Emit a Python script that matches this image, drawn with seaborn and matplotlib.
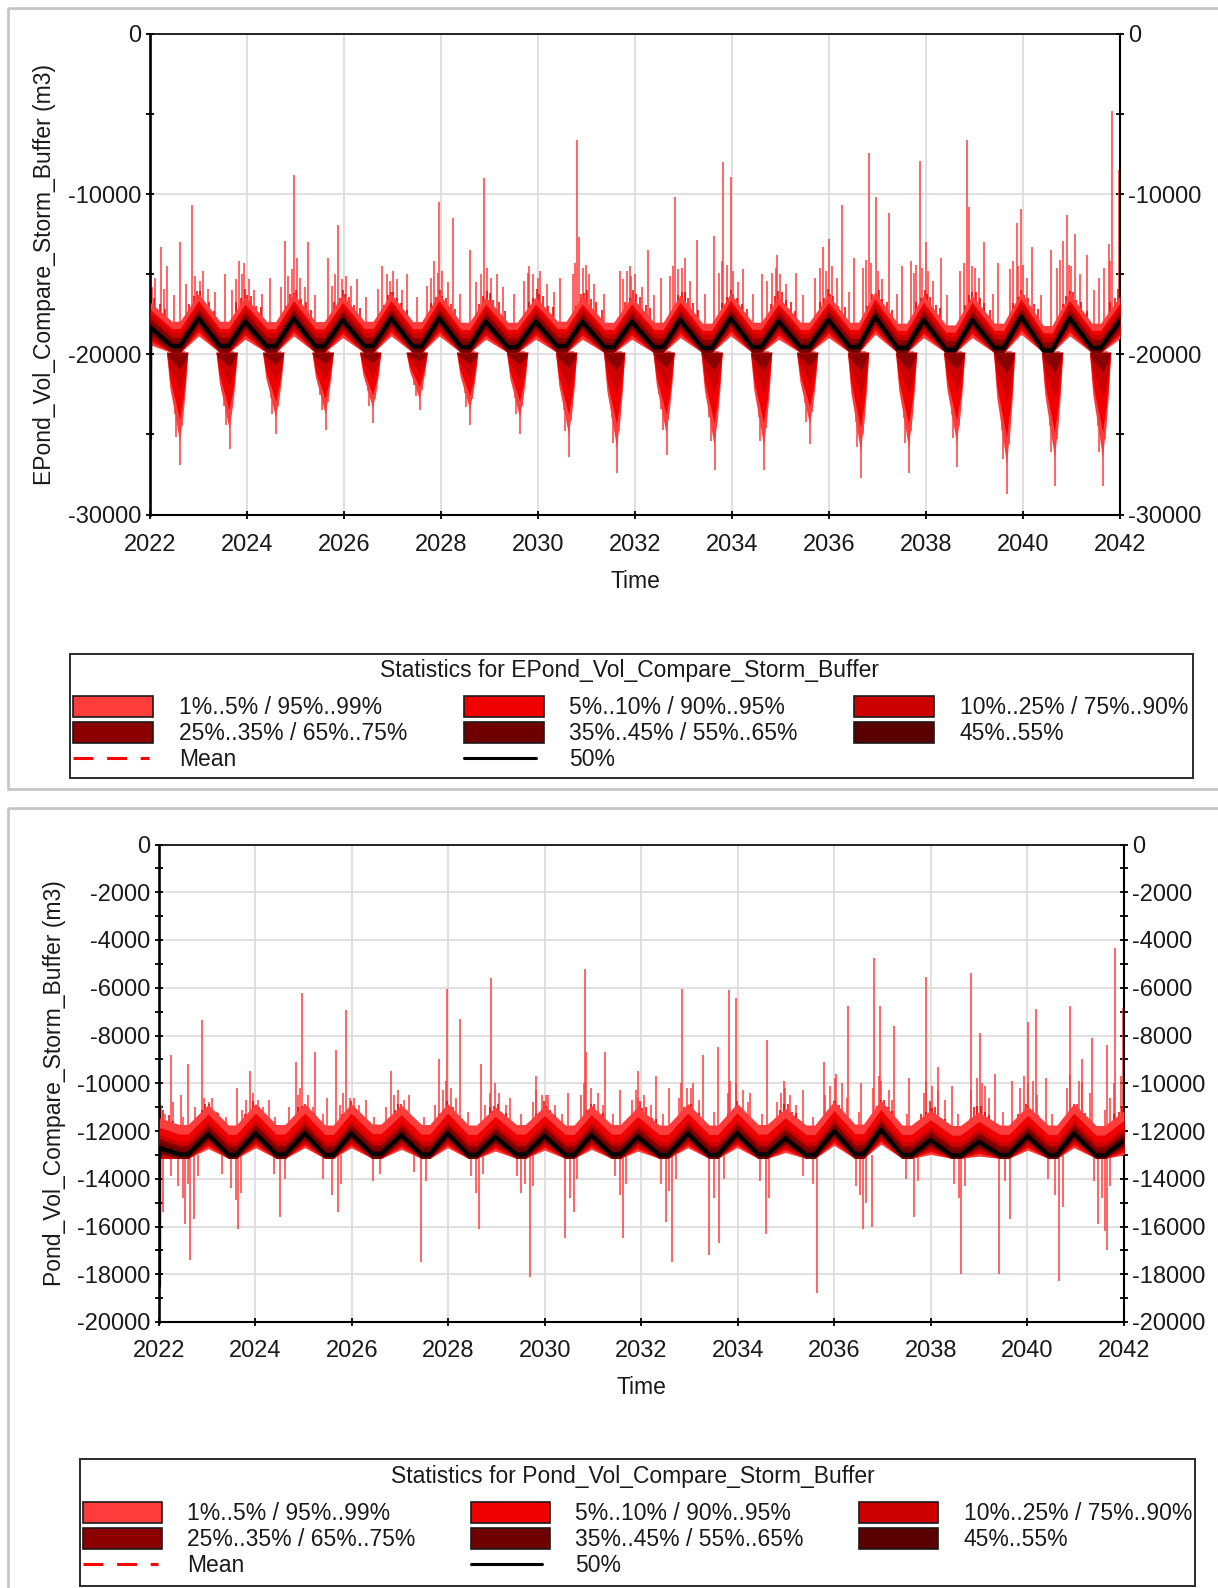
import numpy as np
import pandas as pd
import matplotlib
matplotlib.use("Agg")
import matplotlib.pyplot as plt
import seaborn as sns
from matplotlib.patches import Rectangle

sns.set_theme(style="white")
plt.rcParams['font.family'] = ['Liberation Sans', 'DejaVu Sans']
plt.rcParams['axes.unicode_minus'] = False

# ---------------------------------------------------------------- data
x_ticks = [2022, 2024, 2026, 2028, 2030, 2032, 2034, 2036, 2038, 2040, 2042]

legend_labels = ["1%..5% / 95%..99%", "5%..10% / 90%..95%", "10%..25% / 75%..90%",
                 "25%..35% / 65%..75%", "35%..45% / 55%..65%", "45%..55%"]
line_labels = ["Mean", "50%"]
band_colors = ['#FF3C3C', '#F00000', '#CC0000', '#8B0000', '#6E0000', '#5A0000']

# ---- panel 1 : EPond
top_name = "EPond_Vol_Compare_Storm_Buffer"
top_yticks = [0, -10000, -20000, -30000]
top_yminor = [-5000, -15000, -25000]
top_start = (2022.0, -25300)
top_median = [(2022.005, -18300),
    (2022.45, -19480), (2022.62, -19480), (2023.0, -17740),
    (2023.44, -19480), (2023.62, -19480), (2023.96, -17950),
    (2024.41, -19500), (2024.59, -19500), (2024.96, -17740),
    (2025.41, -19500), (2025.59, -19500), (2025.97, -17850),
    (2026.42, -19480), (2026.6, -19480), (2026.97, -17740),
    (2027.42, -19500), (2027.6, -19500), (2027.96, -17740),
    (2028.41, -19540), (2028.59, -19540), (2028.92, -17950),
    (2029.38, -19540), (2029.57, -19540), (2029.95, -17950),
    (2030.4, -19480), (2030.58, -19480), (2030.91, -17950),
    (2031.37, -19540), (2031.56, -19540), (2031.93, -17950),
    (2032.39, -19540), (2032.58, -19540), (2032.93, -17850),
    (2033.39, -19600), (2033.58, -19600), (2033.97, -17740),
    (2034.42, -19540), (2034.6, -19540), (2034.96, -17950),
    (2035.41, -19540), (2035.59, -19540), (2035.99, -17850),
    (2036.43, -19540), (2036.61, -19540), (2036.95, -17640),
    (2037.41, -19600), (2037.6, -19600), (2037.95, -17850),
    (2038.41, -19710), (2038.6, -19710), (2038.95, -17850),
    (2039.41, -19600), (2039.6, -19600), (2039.96, -17640),
    (2040.42, -19750), (2040.6, -19750), (2040.96, -17740),
    (2041.42, -19600), (2041.6, -19600), (2042.0, -17900)]
# offsets from the median: p55, p65, p75, p90, p95, p99  /  p45, p35, p25, p10, p5, p1
top_up_off = [150, 300, 550, 850, 1100, 1550]
top_lo_off = [-150, -300, -450, -650, -850, -1100]
top_floor = -19900
top_spikes_hi = [
    (2022.22, -13300), (2022.35, -14500), (2022.61, -13000), (2022.86, -10700),
    (2023.09, -14800), (2023.54, -15000), (2023.83, -14200), (2023.94, -14300),
    (2024.48, -15200), (2024.79, -12900), (2024.96, -8800),
    (2025.03, -14000), (2025.25, -13000), (2025.66, -14000), (2025.87, -11900),
    (2026.27, -15300), (2026.79, -14500),
    (2027.02, -14800), (2027.29, -15000), (2027.86, -14200), (2027.95, -10500),
    (2028.24, -11500), (2028.6, -13500), (2028.89, -9000),
    (2029.15, -15000), (2029.82, -14500),
    (2030.05, -14800), (2030.45, -15200), (2030.81, -6600), (2030.85, -12700),
    (2030.99, -14400), (2031.69, -14800), (2031.89, -14500),
    (2032.27, -13500), (2032.53, -15200), (2032.83, -10200),
    (2033.03, -14000), (2033.27, -12850), (2033.63, -12600), (2033.81, -8000),
    (2033.97, -8900), (2034.22, -14700), (2034.62, -15000),
    (2034.92, -13800), (2035.31, -14900), (2035.88, -13300),
    (2036.01, -12800), (2036.27, -10700), (2036.51, -14000), (2036.82, -7400),
    (2036.97, -10200), (2037.24, -11200), (2037.5, -14500), (2037.69, -14200), (2037.88, -7900),
    (2038.0, -13000), (2038.3, -14000), (2038.84, -6600),
    (2038.89, -10800), (2039.19, -13000), (2039.49, -14300), (2039.87, -11800),
    (2039.96, -10900), (2040.18, -13300), (2040.58, -13500), (2040.83, -12900),
    (2040.9, -11300), (2041.08, -12500), (2041.31, -13800), (2041.78, -13100),
    (2041.84, -4800), (2041.98, -8500)]
top_spikes_mid = [
    (2022.04, -15800), (2022.1, -15200), (2022.28, -15900), (2022.5, -16300), (2022.75, -15600), (2022.93, -15100),
    (2023.03, -15400), (2023.2, -15900), (2023.35, -16100), (2023.7, -16000), (2023.78, -15300), (2023.9, -15000),
    (2024.05, -15300), (2024.15, -16000), (2024.3, -16200), (2024.7, -15800), (2024.85, -15100), (2024.93, -14700),
    (2025.1, -15200), (2025.2, -15800), (2025.4, -16300), (2025.75, -15700), (2025.82, -15000), (2025.95, -15300),
    (2026.05, -15100), (2026.15, -15700), (2026.45, -16400), (2026.7, -15900), (2026.88, -15000), (2026.95, -15400),
    (2027.1, -15300), (2027.2, -16000), (2027.5, -16400), (2027.72, -15700), (2027.8, -15200), (2027.93, -14900),
    (2028.03, -14800), (2028.15, -15500), (2028.4, -16200), (2028.72, -15500), (2028.82, -15000), (2028.95, -14600),
    (2029.03, -15200), (2029.28, -15800), (2029.5, -16200), (2029.72, -15400), (2029.8, -14900), (2029.9, -15000),
    (2030.0, -15200), (2030.18, -15600), (2030.33, -16100), (2030.72, -15000), (2030.77, -14300), (2030.92, -14600),
    (2031.06, -15000), (2031.16, -15600), (2031.36, -16200), (2031.75, -15300), (2031.83, -14800), (2031.92, -15100),
    (2032.0, -15000), (2032.15, -15800), (2032.4, -16300), (2032.72, -15100), (2032.79, -14500), (2032.89, -14700),
    (2032.97, -14600), (2033.14, -15400), (2033.44, -16200), (2033.74, -14900), (2033.79, -14200), (2033.89, -14400),
    (2034.03, -14800), (2034.13, -15500), (2034.43, -16200), (2034.73, -15400), (2034.83, -14900), (2034.9, -14600),
    (2034.99, -15000), (2035.12, -15600), (2035.46, -16300), (2035.71, -15200), (2035.81, -14600), (2035.93, -14800),
    (2036.06, -14500), (2036.16, -15200), (2036.41, -16100), (2036.7, -14600), (2036.77, -14100), (2036.87, -14300),
    (2037.02, -14800), (2037.1, -15300), (2037.4, -16200), (2037.75, -14900), (2037.8, -14400), (2037.92, -14600),
    (2038.05, -14800), (2038.15, -15400), (2038.44, -16300), (2038.71, -14800), (2038.79, -14300), (2038.94, -14500),
    (2039.01, -14600), (2039.09, -15200), (2039.39, -16200), (2039.73, -14700), (2039.8, -14200), (2039.9, -14500),
    (2040.0, -14400), (2040.08, -15200), (2040.38, -16300), (2040.7, -14600), (2040.76, -14100), (2040.94, -14400),
    (2041.0, -14500), (2041.18, -15000), (2041.47, -16000), (2041.57, -15200), (2041.67, -14600), (2041.8, -14200)]
top_spikes_p95 = [
    (2022.02, -16200), (2022.09, -16450), (2022.2, -16850), (2022.3, -17150), (2022.8, -16850), (2022.9, -16350), (2022.96, -16050),
    (2023.03, -16050), (2023.1, -16600), (2023.22, -16700), (2023.32, -17300), (2023.78, -16700), (2023.88, -16500), (2023.95, -15900),
    (2024.01, -16300), (2024.08, -16350), (2024.19, -16950), (2024.29, -17050), (2024.81, -16950), (2024.89, -16250), (2024.97, -16150),
    (2025.02, -16000), (2025.11, -16550), (2025.21, -16750), (2025.31, -17250), (2025.79, -16750), (2025.91, -16450), (2025.98, -15950),
    (2026.03, -16250), (2026.1, -16400), (2026.2, -16900), (2026.33, -17100), (2026.82, -16900), (2026.9, -16300), (2026.96, -16100),
    (2027.02, -16100), (2027.09, -16500), (2027.18, -16800), (2027.3, -17200), (2027.8, -16800), (2027.89, -16400), (2027.97, -16000),
    (2028.03, -16350), (2028.1, -16450), (2028.21, -16850), (2028.28, -17150), (2028.78, -16850), (2028.87, -16350), (2028.95, -16050),
    (2029.02, -16150), (2029.08, -16600), (2029.19, -16700), (2029.31, -17300), (2029.81, -16700), (2029.9, -16500), (2029.97, -15900),
    (2030.03, -16200), (2030.1, -16350), (2030.2, -16950), (2030.3, -17050), (2030.79, -16950), (2030.88, -16250), (2030.95, -16150),
    (2031.01, -16000), (2031.09, -16550), (2031.2, -16750), (2031.32, -17250), (2031.8, -16750), (2031.9, -16450), (2031.96, -15950),
    (2032.02, -16250), (2032.1, -16400), (2032.22, -16900), (2032.3, -17100), (2032.82, -16900), (2032.89, -16300), (2032.96, -16100),
    (2033.03, -16100), (2033.09, -16500), (2033.2, -16800), (2033.29, -17200), (2033.79, -16800), (2033.9, -16400), (2033.97, -16000),
    (2034.02, -16300), (2034.1, -16450), (2034.2, -16850), (2034.31, -17150), (2034.8, -16850), (2034.88, -16350), (2034.95, -16050),
    (2035.03, -16100), (2035.11, -16600), (2035.21, -16700), (2035.3, -17300), (2035.81, -16700), (2035.9, -16500), (2035.98, -15900),
    (2036.02, -16200), (2036.09, -16350), (2036.19, -16950), (2036.32, -17050), (2036.79, -16950), (2036.88, -16250), (2036.96, -16150),
    (2037.03, -16000), (2037.1, -16550), (2037.2, -16750), (2037.3, -17250), (2037.8, -16750), (2037.9, -16450), (2037.97, -15950),
    (2038.02, -16250), (2038.08, -16400), (2038.21, -16900), (2038.29, -17100), (2038.81, -16900), (2038.89, -16300), (2038.95, -16100),
    (2039.03, -16100), (2039.11, -16500), (2039.2, -16800), (2039.31, -17200), (2039.8, -16800), (2039.9, -16400), (2039.96, -16000),
    (2040.02, -16300), (2040.1, -16450), (2040.22, -16850), (2040.3, -17150), (2040.82, -16850), (2040.89, -16350), (2040.97, -16050),
    (2041.03, -16100), (2041.09, -16600), (2041.2, -16700), (2041.31, -17300), (2041.79, -16700), (2041.9, -16500), (2041.96, -15900)]
top_spikes_lo = [
    (2022.47, -22700), (2022.51, -23750), (2022.54, -25150), (2022.62, -26900), (2022.66, -24450), (2022.7, -22350),
    (2023.49, -22300), (2023.53, -23200), (2023.56, -24400), (2023.64, -25900), (2023.68, -23800), (2023.72, -22000),
    (2024.45, -21900), (2024.49, -22700), (2024.52, -23700), (2024.6, -25000), (2024.64, -23200), (2024.68, -21700),
    (2025.47, -21800), (2025.51, -22550), (2025.54, -23500), (2025.62, -24700), (2025.66, -23000), (2025.7, -21600),
    (2026.45, -21700), (2026.49, -22300), (2026.52, -23200), (2026.6, -24300), (2026.64, -22800), (2026.68, -21450),
    (2027.41, -21300), (2027.45, -21900), (2027.48, -22600), (2027.56, -23500), (2027.6, -22200), (2027.64, -21150),
    (2028.45, -21700), (2028.49, -22400), (2028.52, -23300), (2028.6, -24400), (2028.64, -22800), (2028.68, -21500),
    (2029.48, -21900), (2029.52, -22700), (2029.55, -23700), (2029.63, -25000), (2029.67, -23200), (2029.71, -21700),
    (2030.49, -22500), (2030.53, -23500), (2030.56, -24800), (2030.64, -26400), (2030.68, -24100), (2030.72, -22200),
    (2031.48, -22900), (2031.52, -24000), (2031.55, -25500), (2031.63, -27400), (2031.67, -24800), (2031.71, -22500),
    (2032.5, -22500), (2032.54, -23400), (2032.57, -24700), (2032.65, -26300), (2032.69, -24100), (2032.73, -22150),
    (2033.49, -22800), (2033.53, -23900), (2033.56, -25400), (2033.64, -27200), (2033.68, -24600), (2033.72, -22450),
    (2034.51, -22800), (2034.55, -23900), (2034.58, -25400), (2034.66, -27200), (2034.7, -24600), (2034.74, -22450),
    (2035.46, -22200), (2035.5, -23050), (2035.53, -24200), (2035.61, -25600), (2035.65, -23600), (2035.69, -21900),
    (2036.51, -23000), (2036.55, -24200), (2036.58, -25750), (2036.66, -27700), (2036.7, -25000), (2036.74, -22650),
    (2037.5, -22900), (2037.54, -24000), (2037.57, -25500), (2037.65, -27400), (2037.69, -24800), (2037.73, -22500),
    (2038.49, -22700), (2038.53, -23800), (2038.56, -25200), (2038.64, -27000), (2038.68, -24500), (2038.72, -22400),
    (2039.52, -23400), (2039.56, -24750), (2039.59, -26500), (2039.67, -28700), (2039.71, -25600), (2039.75, -23000),
    (2040.51, -23200), (2040.55, -24450), (2040.58, -26100), (2040.66, -28200), (2040.7, -25300), (2040.74, -22800),
    (2041.5, -23200), (2041.54, -24450), (2041.57, -26100), (2041.65, -28200), (2041.69, -25300), (2041.73, -22800)]
# seasonal dips of the lower percentiles: centre time, 1%, 5%, 10%, 25% depth
top_dip_t = [2022.62, 2023.64, 2024.6, 2025.62, 2026.6, 2027.56, 2028.6, 2029.63, 2030.64, 2031.63,
             2032.65, 2033.64, 2034.66, 2035.61, 2036.66, 2037.65, 2038.64, 2039.67, 2040.66, 2041.65]
top_dip_p1 = [-25500, -24700, -24000, -23750, -23400, -22800, -23500, -24000, -25100, -25900,
              -25000, -25750, -25750, -24450, -26150, -25900, -25600, -26950, -26550, -26550]
top_dip_p5 = [-24100, -23500, -22950, -22800, -22550, -22050, -22600, -22950, -23800, -24400,
              -23750, -24300, -24300, -23300, -24600, -24400, -24150, -25200, -24900, -24900]
top_dip_p10 = [-22350, -22000, -21700, -21600, -21450, -21150, -21500, -21700, -22200, -22500,
               -22150, -22450, -22450, -21900, -22650, -22500, -22400, -23000, -22800, -22800]
top_dip_p25 = [-20950, -20800, -20650, -20600, -20550, -20450, -20600, -20650, -20850, -21000,
               -20850, -21000, -21000, -20750, -21050, -21000, -20950, -21200, -21150, -21150]
dip_dt = [-0.27, -0.2, -0.13, -0.08, -0.03, 0.0, 0.03, 0.07, 0.12, 0.17]
dip_frac = [0.0, 0.4, 0.6, 0.75, 0.9, 1.0, 0.85, 0.7, 0.4, 0.0]

# ---- panel 2 : Pond
bot_name = "Pond_Vol_Compare_Storm_Buffer"
bot_yticks = [0, -2000, -4000, -6000, -8000, -10000, -12000, -14000, -16000, -18000, -20000]
bot_yminor = [-1000, -3000, -5000, -7000, -9000, -11000, -13000, -15000, -17000, -19000]
bot_start = (2022.0, -18500)
bot_median = [(2022.005, -12700),
    (2022.42, -12980), (2022.6, -12980), (2023.02, -12140),
    (2023.44, -13000), (2023.6, -13000), (2024.0, -12100),
    (2024.43, -12980), (2024.61, -12980), (2025.02, -12100),
    (2025.44, -13000), (2025.61, -13000), (2025.98, -12100),
    (2026.42, -12960), (2026.6, -12960), (2027.02, -12170),
    (2027.44, -12980), (2027.61, -12980), (2027.98, -12100),
    (2028.41, -13000), (2028.58, -13000), (2028.97, -12240),
    (2029.41, -12980), (2029.59, -12980), (2029.99, -12200),
    (2030.42, -13000), (2030.6, -13000), (2030.96, -12170),
    (2031.38, -12980), (2031.56, -12980), (2031.92, -12240),
    (2032.37, -13000), (2032.55, -13000), (2032.96, -12100),
    (2033.4, -13000), (2033.58, -13000), (2033.98, -12090),
    (2034.42, -12980), (2034.6, -12980), (2034.98, -12300),
    (2035.41, -13000), (2035.59, -13000), (2035.99, -12000),
    (2036.42, -12960), (2036.6, -12960), (2036.96, -11950),
    (2037.4, -13000), (2037.59, -13000), (2037.99, -12380),
    (2038.43, -13020), (2038.61, -13020), (2038.99, -12450),
    (2039.43, -13000), (2039.61, -13000), (2040.0, -12200),
    (2040.43, -13000), (2040.61, -13000), (2040.96, -12100),
    (2041.42, -13020), (2041.6, -13020), (2042.0, -12400)]
bot_up_off = [120, 250, 380, 550, 850, 1250]
bot_lo_off = [-100, -180, -260, -380, -480, -600]
bot_floor = -13150
bot_spikes_hi = [
    (2022.25, -8800), (2022.45, -10500), (2022.61, -9200), (2022.89, -7350),
    (2023.1, -10600), (2023.62, -10200), (2023.89, -9500),
    (2024.29, -10700), (2024.83, -9100), (2024.97, -6200),
    (2025.24, -8700), (2025.49, -10600), (2025.67, -8600), (2025.88, -6950),
    (2026.28, -10700), (2026.81, -9500),
    (2027.18, -10500), (2027.8, -9000), (2027.96, -6050),
    (2028.23, -7300), (2028.67, -9200), (2028.89, -5600),
    (2029.27, -10600), (2029.82, -9700),
    (2030.07, -10500), (2030.47, -10400), (2030.82, -5200), (2030.86, -8700),
    (2031.25, -8700), (2031.56, -10300), (2031.92, -9500),
    (2032.31, -9700), (2032.56, -10200), (2032.84, -6050),
    (2033.06, -10000), (2033.27, -8800), (2033.59, -8500), (2033.82, -6100),
    (2033.95, -6450), (2034.25, -10400), (2034.61, -8200),
    (2034.95, -9900), (2035.35, -10300), (2035.79, -9100),
    (2036.04, -9600), (2036.27, -6750), (2036.54, -10000), (2036.82, -4750),
    (2036.95, -6750), (2037.24, -7600), (2037.54, -9800), (2037.9, -5550),
    (2038.14, -9300), (2038.43, -10100), (2038.82, -5400),
    (2039.02, -7900), (2039.33, -9600), (2039.68, -9900),
    (2040.01, -7450), (2040.18, -6900), (2040.38, -9800), (2040.88, -6750),
    (2041.12, -9000), (2041.34, -8100), (2041.64, -8400), (2041.82, -4350), (2041.98, -6850)]
bot_spikes_mid = [
    (2022.04, -10900), (2022.12, -11300), (2022.3, -10800), (2022.5, -11400), (2022.75, -11000), (2022.93, -10600),
    (2023.03, -10800), (2023.2, -11200), (2023.38, -11400), (2023.72, -11100), (2023.8, -10700), (2023.95, -10400),
    (2024.05, -10700), (2024.15, -11000), (2024.4, -11400), (2024.7, -11000), (2024.88, -10500), (2024.93, -10200),
    (2025.08, -10500), (2025.2, -11000), (2025.4, -11300), (2025.75, -10900), (2025.82, -10400), (2025.95, -10600),
    (2026.05, -10600), (2026.15, -10900), (2026.45, -11400), (2026.7, -11000), (2026.88, -10500), (2026.95, -10300),
    (2027.08, -10700), (2027.15, -11100), (2027.5, -11400), (2027.72, -10900), (2027.88, -10300), (2027.95, -9900),
    (2028.05, -10200), (2028.15, -10600), (2028.4, -11200), (2028.75, -10900), (2028.85, -10400), (2028.97, -10000),
    (2029.05, -10400), (2029.2, -10900), (2029.5, -11300), (2029.75, -10800), (2029.82, -10300), (2029.93, -10500),
    (2030.03, -10500), (2030.2, -10900), (2030.35, -11300), (2030.75, -10500), (2030.8, -10000), (2030.95, -10200),
    (2031.1, -10400), (2031.2, -10900), (2031.4, -11300), (2031.8, -10700), (2031.88, -10300), (2031.92, -10600),
    (2032.05, -10500), (2032.2, -10900), (2032.45, -11300), (2032.78, -10600), (2032.82, -10000), (2032.95, -10200),
    (2033.03, -10200), (2033.2, -10700), (2033.5, -11200), (2033.8, -10400), (2033.84, -9900), (2033.95, -10000),
    (2034.1, -10300), (2034.2, -10800), (2034.5, -11300), (2034.8, -10800), (2034.9, -10400), (2034.97, -10200),
    (2035.07, -10500), (2035.2, -10900), (2035.55, -11400), (2035.8, -10500), (2035.9, -10100), (2036.02, -9800),
    (2036.15, -10000), (2036.25, -10600), (2036.5, -11200), (2036.8, -10200), (2036.92, -9700), (2036.97, -9900),
    (2037.12, -10300), (2037.2, -10700), (2037.5, -11300), (2037.85, -10400), (2037.9, -9900), (2038.02, -10100),
    (2038.15, -10300), (2038.3, -10700), (2038.55, -11300), (2038.82, -10300), (2038.95, -9800), (2039.05, -10000),
    (2039.12, -10100), (2039.2, -10600), (2039.5, -11200), (2039.85, -10200), (2039.92, -9700), (2040.02, -10000),
    (2040.12, -9900), (2040.2, -10500), (2040.5, -11300), (2040.82, -10200), (2040.88, -9600), (2041.06, -9900),
    (2041.12, -10000), (2041.3, -10400), (2041.6, -11100), (2041.7, -10600), (2041.8, -10000), (2041.93, -9700)]
bot_spikes_p95 = [
    (2022.02, -10950), (2022.09, -11100), (2022.2, -11350), (2022.3, -11600), (2022.8, -11400), (2022.9, -11100), (2022.96, -10850),
    (2023.03, -10850), (2023.1, -11200), (2023.22, -11250), (2023.32, -11700), (2023.78, -11300), (2023.88, -11200), (2023.95, -10750),
    (2024.01, -11050), (2024.08, -11000), (2024.19, -11450), (2024.29, -11500), (2024.81, -11500), (2024.89, -11000), (2024.97, -10950),
    (2025.02, -10850), (2025.11, -11200), (2025.21, -11250), (2025.31, -11700), (2025.79, -11300), (2025.91, -11200), (2025.98, -10750),
    (2026.03, -10950), (2026.1, -11100), (2026.2, -11350), (2026.33, -11600), (2026.82, -11400), (2026.9, -11100), (2026.96, -10850),
    (2027.02, -10850), (2027.09, -11200), (2027.18, -11250), (2027.3, -11700), (2027.8, -11300), (2027.89, -11200), (2027.97, -10750),
    (2028.03, -11050), (2028.1, -11000), (2028.21, -11450), (2028.28, -11500), (2028.78, -11500), (2028.87, -11000), (2028.95, -10950),
    (2029.02, -10850), (2029.08, -11200), (2029.19, -11250), (2029.31, -11700), (2029.81, -11300), (2029.9, -11200), (2029.97, -10750),
    (2030.03, -10950), (2030.1, -11100), (2030.2, -11350), (2030.3, -11600), (2030.79, -11400), (2030.88, -11100), (2030.95, -10850),
    (2031.01, -10850), (2031.09, -11200), (2031.2, -11250), (2031.32, -11700), (2031.8, -11300), (2031.9, -11200), (2031.96, -10750),
    (2032.02, -11050), (2032.1, -11000), (2032.22, -11450), (2032.3, -11500), (2032.82, -11500), (2032.89, -11000), (2032.96, -10950),
    (2033.03, -10850), (2033.09, -11200), (2033.2, -11250), (2033.29, -11700), (2033.79, -11300), (2033.9, -11200), (2033.97, -10750),
    (2034.02, -10950), (2034.1, -11100), (2034.2, -11350), (2034.31, -11600), (2034.8, -11400), (2034.88, -11100), (2034.95, -10850),
    (2035.03, -10850), (2035.11, -11200), (2035.21, -11250), (2035.3, -11700), (2035.81, -11300), (2035.9, -11200), (2035.98, -10750),
    (2036.02, -10750), (2036.09, -10900), (2036.19, -11250), (2036.32, -11500), (2036.79, -11300), (2036.88, -10950), (2036.96, -10700),
    (2037.03, -10700), (2037.1, -11000), (2037.2, -11150), (2037.3, -11600), (2037.8, -11300), (2037.9, -11200), (2037.97, -10750),
    (2038.02, -11050), (2038.08, -11000), (2038.21, -11450), (2038.29, -11500), (2038.81, -11500), (2038.89, -11000), (2038.95, -10950),
    (2039.03, -10950), (2039.11, -11200), (2039.2, -11350), (2039.31, -11700), (2039.8, -11300), (2039.9, -11200), (2039.96, -10850),
    (2040.02, -10950), (2040.1, -11100), (2040.22, -11350), (2040.3, -11600), (2040.82, -11400), (2040.89, -11100), (2040.97, -10850),
    (2041.03, -10850), (2041.09, -11200), (2041.2, -11250), (2041.31, -11700), (2041.79, -11300), (2041.9, -11200), (2041.96, -10950)]
bot_spikes_lo = [
    (2022.08, -15400), (2022.25, -13900), (2022.4, -14300), (2022.5, -14800), (2022.54, -15900),
    (2022.6, -14200), (2022.65, -17400), (2022.72, -15700), (2022.8, -13900),
    (2023.3, -13800), (2023.5, -14400), (2023.59, -14900), (2023.64, -16100), (2023.69, -14600),
    (2024.39, -13800), (2024.5, -15600), (2024.61, -14000),
    (2025.39, -14000), (2025.59, -14700), (2025.71, -15400), (2025.77, -14200),
    (2026.44, -14100), (2026.58, -13800),
    (2027.28, -13700), (2027.42, -17500), (2027.53, -14100),
    (2028.47, -13900), (2028.57, -14600), (2028.63, -16100), (2028.72, -13800),
    (2029.42, -13900), (2029.51, -14600), (2029.59, -14200), (2029.69, -18100), (2029.75, -14300),
    (2030.42, -16500), (2030.52, -14800), (2030.6, -15400), (2030.67, -14000),
    (2031.46, -13900), (2031.56, -14700), (2031.62, -16500), (2031.68, -14200),
    (2032.41, -14200), (2032.5, -15800), (2032.56, -14500), (2032.63, -17500), (2032.71, -14000),
    (2033.4, -17200), (2033.5, -14800), (2033.61, -16700), (2033.7, -14000),
    (2034.45, -14100), (2034.57, -16300), (2034.65, -14800),
    (2035.35, -13900), (2035.55, -14200), (2035.63, -18800),
    (2036.44, -14300), (2036.52, -14700), (2036.59, -16100), (2036.66, -15000), (2036.78, -16000),
    (2037.49, -14000), (2037.64, -15600), (2037.74, -14100),
    (2038.48, -14200), (2038.58, -14800), (2038.63, -18000), (2038.71, -14300),
    (2039.4, -18000), (2039.53, -14100), (2039.63, -15700),
    (2040.42, -14000), (2040.57, -14700), (2040.65, -18300), (2040.73, -15200),
    (2041.37, -14100), (2041.47, -15900), (2041.54, -14800), (2041.6, -16200), (2041.64, -17000), (2041.72, -14300)]

# ---------------------------------------------------------------- figure
W, H = 1218, 1588
fig = plt.figure(figsize=(W / 100, H / 100), dpi=100)
fig.patch.set_facecolor('white')


def px_axes(l, t, r, b):
    return fig.add_axes([l / W, 1 - b / H, (r - l) / W, (b - t) / H])


def spikes(ax, pts, base, col, z=2):
    ax.vlines([p[0] for p in pts], base, [p[1] for p in pts], color=col, lw=1.1, zorder=z)


def draw_panel(ax, box, name, start, median, up_off, lo_off, floor,
               spk_hi, spk_mid, spk_95, spk_lo, hi_base, lo_base, dips,
               yticks, yminor, ylim, xpad, ylab_px):
    t = np.array([p[0] for p in median])
    m = np.array([p[1] for p in median])

    # tails as thin spikes
    spikes(ax, spk_mid, hi_base, band_colors[0])
    spikes(ax, spk_hi, hi_base, band_colors[0])
    spikes(ax, spk_95, hi_base, band_colors[1], z=2.5)
    spikes(ax, spk_lo, lo_base, band_colors[0])

    # seasonal dips of lower percentiles
    if dips is not None:
        dt = np.array(dip_dt)
        fr = np.array(dip_frac)
        for level, col in zip(dips[1:], band_colors[:4]):
            for tc, d in zip(dips[0], level):
                ax.fill(tc + dt, floor + fr * (d - floor), color=col, lw=0, zorder=3)

    # percentile bands (outermost first)
    for k in range(5, -1, -1):
        hi = m + up_off[k]
        lo = np.maximum(m + lo_off[k], floor)
        ax.fill_between(t, lo, hi, color=band_colors[5 - k], lw=0, zorder=4)

    # median (50%)
    df = pd.DataFrame({'Time': np.r_[start[0], t], 'v': np.r_[start[1], m]})
    sns.lineplot(data=df, x='Time', y='v', ax=ax, color='black', lw=3.0,
                 estimator=None, sort=False, legend=False, zorder=6)

    ax.set_xlim(2022, 2042)
    ax.set_ylim(*ylim)
    ax.set_xticks(x_ticks)
    ax.set_xticklabels([str(v) for v in x_ticks])
    ax.set_yticks(yticks)
    ax.set_yticklabels([str(v) for v in yticks])
    ax.set_yticks(yminor, minor=True)
    ax.grid(True, which='major', color='#DADADA', lw=1.2)
    ax.set_axisbelow(True)
    ax.tick_params(axis='both', which='both', direction='inout', width=1.3,
                   colors='black', labelcolor='#1a1a1a', labelsize=17)
    ax.tick_params(axis='both', which='major', length=6)
    ax.tick_params(axis='y', which='minor', length=6)
    ax.tick_params(axis='y', which='both', left=True, right=True,
                   labelleft=True, labelright=True, pad=3)
    ax.tick_params(axis='x', which='both', bottom=True, top=False, pad=xpad)
    for s in ['left', 'right', 'bottom', 'top']:
        ax.spines[s].set_visible(True)
        ax.spines[s].set_color('black')
    ax.spines['left'].set_linewidth(1.9)
    ax.spines['right'].set_linewidth(1.5)
    ax.spines['bottom'].set_linewidth(1.5)
    ax.spines['top'].set_linewidth(1.2)

    l, tp, r, b = box
    ax.set_xlabel('Time', fontsize=16.5, color='#1a1a1a')
    ax.xaxis.set_label_coords(0.5, (b - ylab_px[1]) / (b - tp))
    ax.set_ylabel(name + ' (m3)', fontsize=16.5, color='#1a1a1a')
    ax.yaxis.set_label_coords((ylab_px[0] - l) / (r - l), 0.5)


top_box = (150, 34, 1120, 514.6)
ax1 = px_axes(*top_box)
draw_panel(ax1, top_box, top_name, top_start, top_median, top_up_off, top_lo_off, top_floor,
           top_spikes_hi, top_spikes_mid, top_spikes_p95, top_spikes_lo, -18500, -19800,
           (top_dip_t, top_dip_p1, top_dip_p5, top_dip_p10, top_dip_p25),
           top_yticks, top_yminor, (-30000, 0), 11, (56, 570))

bot_box = (159, 844.5, 1124, 1322)
ax2 = px_axes(*bot_box)
draw_panel(ax2, bot_box, bot_name, bot_start, bot_median, bot_up_off, bot_lo_off, bot_floor,
           bot_spikes_hi, bot_spikes_mid, bot_spikes_p95, bot_spikes_lo, -12500, -13000, None,
           bot_yticks, bot_yminor, (-20000, 0), 10, (66, 1376))

# ---------------------------------------------------------------- frames & legends
ov = fig.add_axes([0, 0, 1, 1], zorder=10)
ov.set_xlim(0, W)
ov.set_ylim(H, 0)
ov.axis('off')

ov.add_patch(Rectangle((8, 8), 1230, 781, fill=False, ec='#C6C6C6', lw=2.0))
ov.add_patch(Rectangle((8, 808), 1230, 800, fill=False, ec='#C6C6C6', lw=2.0))


def draw_legend(box, title, title_xy, rows_y, sw_x, sw_w, txt_x):
    x0, y0, x1, y1 = box
    ov.add_patch(Rectangle((x0, y0), x1 - x0, y1 - y0, fill=False, ec='#2a2a2a', lw=1.4))
    ov.text(title_xy[0], title_xy[1], "Statistics for " + title, ha='center', va='center',
            fontsize=16.5, color='#1a1a1a')
    for i, (lab, col) in enumerate(zip(legend_labels, band_colors)):
        r, c = divmod(i, 3)
        ov.add_patch(Rectangle((sw_x[c], rows_y[r] - 10.5), sw_w, 21, fc=col,
                               ec='#1a1a1a', lw=1.2))
        ov.text(txt_x[c], rows_y[r] + 1, lab, ha='left', va='center', fontsize=16.5,
                color='#1a1a1a')
    y = rows_y[2]
    ov.plot([sw_x[0], sw_x[0] + sw_w - 4], [y, y], color='#FF0000', lw=2.2,
            ls=(0, (6.5, 4.5)))
    ov.text(txt_x[0], y + 1, line_labels[0], ha='left', va='center', fontsize=16.5, color='#1a1a1a')
    ov.plot([sw_x[1], sw_x[1] + sw_w - 8], [y, y], color='black', lw=2.2)
    ov.text(txt_x[1], y + 1, line_labels[1], ha='left', va='center', fontsize=16.5, color='#1a1a1a')


draw_legend((70, 654, 1193, 778), top_name, (629, 671), [706, 732, 758],
            [73, 464, 854], 80, [179, 569, 960])
draw_legend((80, 1459, 1195, 1586), bot_name, (633, 1477), [1512, 1538, 1564],
            [83, 471, 859], 79, [187, 575, 964])

fig.savefig("out.png", dpi=100, facecolor='white')
